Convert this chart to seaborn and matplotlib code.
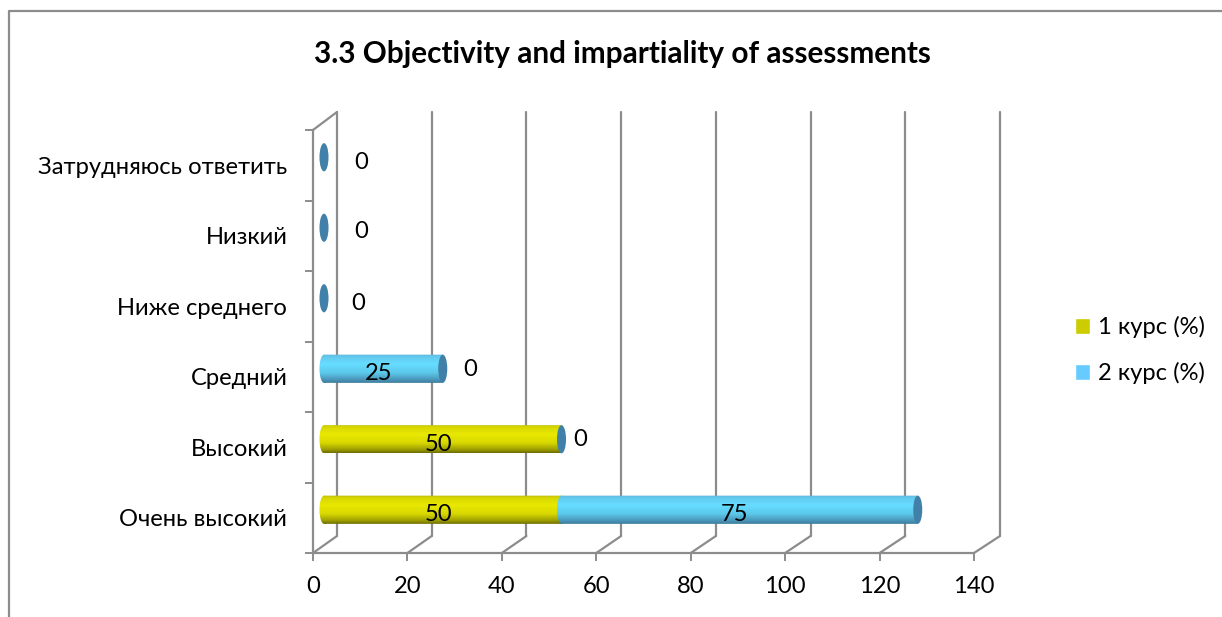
import numpy as np
import pandas as pd
import seaborn as sns

import matplotlib
matplotlib.use('Agg')
import matplotlib.pyplot as plt
from matplotlib.colors import LinearSegmentedColormap
from matplotlib.lines import Line2D
from matplotlib.patches import ConnectionPatch, Ellipse, Patch
from matplotlib.path import Path
from matplotlib.transforms import Affine2D

categories = ['Затрудняюсь ответить', 'Низкий', 'Ниже среднего', 'Средний', 'Высокий', 'Очень высокий']
course_1 = [0, 0, 0, 0, 50, 50]
course_2 = [0, 0, 0, 25, 0, 75]
series_names = ['1 курс (%)', '2 курс (%)']
x_ticks = [0, 20, 40, 60, 80, 100, 120, 140]
title = '3.3 Objectivity and impartiality of assessments'

W, H = 1222, 617
GREY = '#8c8c8c'
TEXT = '#000000'
BAR_H = 0.4
CAP_W = 1.9

sns.set_theme(style='white')
plt.rcParams['font.family'] = ['Lato', 'Noto Sans', 'DejaVu Sans']
FS = 17.1

yellow = LinearSegmentedColormap.from_list('y', [(0, '#bdbd10'), (0.1, '#d8d800'), (0.35, '#e8e800'),
                                                 (0.65, '#d8d800'), (0.88, '#a0a000'), (1, '#6e6e00')])
blue = LinearSegmentedColormap.from_list('b', [(0, '#5fb8dc'), (0.1, '#64cbf0'), (0.35, '#66ddff'),
                                               (0.65, '#5cc8ea'), (0.88, '#4a98bc'), (1, '#3c7c9c')])


def px_axes(fig, left, top, right, bottom, **kw):
    return fig.add_axes([left / W, 1 - bottom / H, (right - left) / W, (bottom - top) / H], **kw)


fig = plt.figure(figsize=(W / 100, H / 100), dpi=100, facecolor='white')

# outer chart frame, cut off by the picture on the right and bottom
fig.add_artist(Line2D([9 / W, 9 / W, 1], [0, 1 - 11 / H, 1 - 11 / H], color=GREY, lw=1.6))
fig.text(622 / W, 1 - 54 / H, title, ha='center', va='center', fontsize=21.4, fontweight='bold', color=TEXT)

# back wall
ax_back = px_axes(fig, 337, 112, 1000, 536, zorder=1)
ax_back.set_xlim(0, 140)
ax_back.set_ylim(5.5, -0.5)
ax_back.set_yticks([])
ax_back.set_xticks([])
for t in x_ticks:
    ax_back.axvline(t, color=GREY, lw=1.6, clip_on=False)
for s in ax_back.spines.values():
    s.set_visible(False)
ax_back.patch.set_visible(False)

# front axis, ticks and labels
ax = px_axes(fig, 313, 130, 974, 553, zorder=2)
ax.set_xlim(0, 140)
ax.set_ylim(5.5, -0.5)
ax.patch.set_visible(False)
ax.set_xticks(x_ticks)
ax.set_yticks(np.arange(-0.5, 6, 1))
ax.set_yticks(range(len(categories)), labels=categories, minor=True)
ax.tick_params(axis='y', which='major', left=True, length=5.8, width=1.4, color=GREY, labelleft=False)
ax.tick_params(axis='y', which='minor', left=False, length=0, pad=18.5, labelsize=FS, labelcolor=TEXT)
ax.tick_params(axis='x', bottom=True, length=5.8, width=1.4, color=GREY, pad=11, labelsize=FS, labelcolor=TEXT)
ax.grid(False)
for name, s in ax.spines.items():
    s.set_visible(name in ('left', 'bottom'))
    s.set_color(GREY)
    s.set_linewidth(1.6)

# slanted floor and side wall edges
for t in x_ticks:
    fig.add_artist(ConnectionPatch((t, 5.5), (t, 5.5), 'data', 'data', axesA=ax, axesB=ax_back, color=GREY, lw=1.6))
fig.add_artist(ConnectionPatch((0, -0.5), (0, -0.5), 'data', 'data', axesA=ax, axesB=ax_back, color=GREY, lw=1.6))

# cylinders sit in the middle of the floor depth
ax_bars = px_axes(fig, 324, 122, 989, 545, zorder=3)
ax_bars.patch.set_visible(False)
df = pd.DataFrame({'cat': categories, 'c1': course_1, 'c2': course_2})
sns.barplot(data=df, y='cat', x='c1', color='#e0e000', width=BAR_H, saturation=1, ax=ax_bars)
sns.barplot(data=df, y='cat', x='c2', left=course_1, color='#66ccff', width=BAR_H, saturation=1, ax=ax_bars)
ax_bars.set_xlim(0, 140)
ax_bars.set_ylim(5.5, -0.5)
ax_bars.axis('off')


def shade(bar, cmap):
    # vertical gradient clipped to the bar plus its rounded left end
    x0, y0 = bar.get_x(), bar.get_y()
    w, h = bar.get_width(), bar.get_height()
    if w == 0:
        return
    im = ax_bars.imshow(np.linspace(0, 1, 64).reshape(-1, 1), cmap=cmap, aspect='auto', vmin=0, vmax=1,
                        extent=(x0 - CAP_W / 2, x0 + w, y0 + h, y0), zorder=3)
    rect = Path.unit_rectangle().transformed(Affine2D().scale(w, h).translate(x0, y0))
    end = Path.unit_circle().transformed(Affine2D().scale(CAP_W / 2, h / 2).translate(x0, y0 + h / 2))
    im.set_clip_box(fig.bbox)
    im.set_clip_path(Path.make_compound_path(rect, end), ax_bars.transData)


for bars, cmap in zip(ax_bars.containers, [yellow, blue]):
    for bar in bars:
        bar.set_visible(False)
        shade(bar, cmap)
ax_bars.set_xlim(0, 140)
ax_bars.set_ylim(5.5, -0.5)

totals = np.array(course_1) + np.array(course_2)
for i, t in enumerate(totals):
    ax_bars.add_patch(Ellipse((t, i), CAP_W, BAR_H, facecolor='#4180a8', edgecolor='none', zorder=4, clip_on=False))

# data labels
label_kw = dict(textcoords='offset pixels', ha='center', va='center', fontsize=FS, color=TEXT, zorder=5)
for i, (a, b) in enumerate(zip(course_1, course_2)):
    if a:
        ax_bars.annotate(str(a), (a / 2, i), xytext=(-4, -5), **label_kw)
    if b:
        ax_bars.annotate(str(b), (a + b / 2, i), xytext=(-5, -5), **label_kw)
zero_dx = [37, 37, 34, 27, 19]
zero_dy = [-5, -4, -5, -1, 0]
for i in range(5):
    ax_bars.annotate('0', (totals[i], i), xytext=(zero_dx[i], zero_dy[i]), **label_kw)

handles = [Patch(facecolor='#cccc00', label=series_names[0]), Patch(facecolor='#66ccff', label=series_names[1])]
fig.legend(handles=handles, loc='upper left', bbox_to_anchor=(1054 / W, 1 - 295 / H), frameon=False, fontsize=FS,
           handlelength=0.63, handleheight=0.63, handletextpad=0.33, labelspacing=1.0, labelcolor=TEXT)

fig.savefig('out.png', dpi=100)
